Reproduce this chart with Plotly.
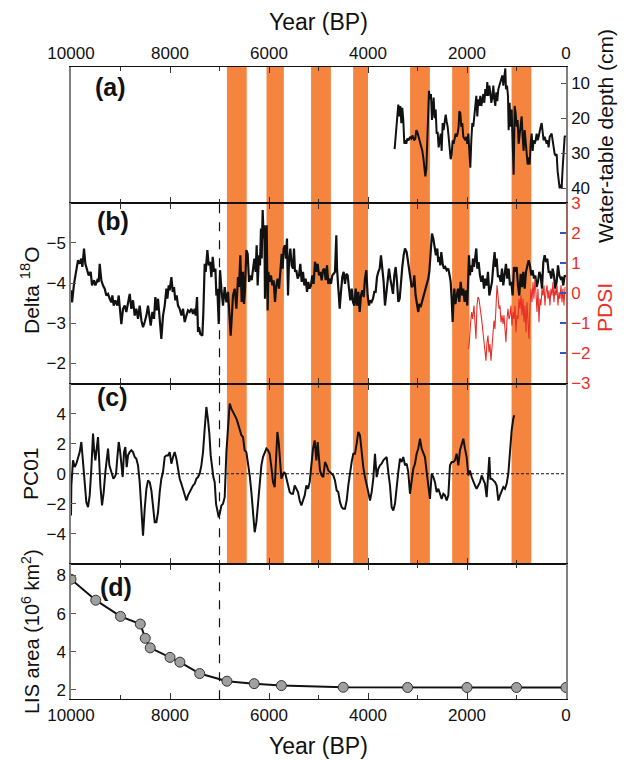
import plotly.graph_objects as go

# ---------------- data ----------------
# Panel (a): water-table depth (cm)
wt_year = [3462,3435,3408,3388,3367,3347,3327,3307,3287,3266,3246,3226,3206,3179,3152,3125,3098,3071,3044,3024,
           3004,2984,2963,2943,2923,2903,2883,2862,2842,2822,2802,2782,2768,2748,2728,2708,2694,2674,2654,2633,
           2613,2593,2573,2553,2532,2512,2492,2472,2452,2431,2411,2391,2371,2351,2330,2310,2290,2270,2250,2229,
           2209,2189,2169,2155,2135,2115,2095,2075,2054,2034,2014,1994,1974,1953,1933,1913,1893,1873,1852,1832,
           1812,1792,1771,1751,1731,1711,1691,1670,1650,1630,1610,1590,1570,1549,1529,1509,1489,1468,1448,1428,
           1408,1388,1367,1347,1327,1307,1287,1266,1246,1226,1213,1192,1172,1159,1139,1118,1098,1078,1058,1037,
           1017,997,977,957,936,916,896,876,856,835,815,795,775,755,734,714,694,674,654,633,
           613,593,573,553,532,512,492,472,452,431,411,391,371,351,330,310,290,270,250,229,
           209,189,169,149,128,108,88,67,47,27,7]
wt_depth = [28.8,24.4,19.5,16.1,19.5,16.5,21.4,17.0,20.5,27.3,26.3,27.3,25.8,26.3,25.3,25.8,24.9,26.3,25.8,23.4,
            23.9,24.9,26.3,27.3,28.3,29.3,31.2,34.1,36.6,34.6,26.3,18.5,12.2,14.6,13.1,20.5,16.5,14.1,20.0,17.5,
            24.4,23.9,28.3,25.3,24.4,29.3,21.4,23.4,20.0,19.0,20.9,22.4,25.3,28.3,31.7,30.2,26.3,27.3,25.3,24.4,
            25.3,24.4,22.4,18.0,18.5,22.4,21.4,25.3,25.8,26.3,25.3,27.3,24.4,28.3,34.1,26.3,21.4,22.4,18.5,17.5,
            13.6,19.5,14.6,16.5,13.6,16.5,14.6,13.1,15.6,11.7,13.6,9.7,13.6,10.7,12.6,15.6,14.1,10.7,14.6,16.5,
            12.6,15.1,11.7,10.7,9.7,8.7,7.8,10.7,7.3,5.8,11.7,10.7,13.6,23.4,15.6,22.4,17.5,25.3,36.1,16.5,
            18.5,22.4,20.5,27.3,24.4,23.4,19.5,25.3,29.3,23.4,26.3,29.3,33.2,31.2,33.2,27.3,24.4,29.3,26.3,27.3,
            26.3,24.4,26.3,25.3,23.4,22.4,21.4,23.4,26.3,25.3,26.3,27.3,26.3,28.3,25.3,24.9,24.4,26.3,28.3,30.2,
            30.7,30.2,35.1,38.1,40.0,39.0,40.0,34.1,30.2,25.3,25.0]

# Panel (b): Delta 18O
d18o_year = [10000,9979,9939,9892,9858,9824,9791,9770,9737,9710,9676,9643,9602,9575,9535,9508,9467,9440,9420,9387,
             9353,9319,9286,9252,9218,9185,9164,9137,9104,9063,9036,9016,8983,8949,8915,8882,8848,8814,8781,8747,
             8713,8680,8646,8612,8578,8545,8511,8477,8444,8417,8390,8356,8323,8296,8269,8242,8215,8175,8141,8107,
             8073,8053,8026,8006,7972,7945,7919,7892,7865,7838,7804,7770,7737,7703,7669,7636,7602,7568,7535,7501,
             7481,7454,7434,7414,7387,7346,7326,7299,7279,7245,7218,7191,7164,7137,7110,7083,7063,7043,7016,6989,
             6962,6929,6895,6861,6828,6774,6727,6693,6659,6626,
             6606,6579,6552,6525,6505,6485,6458,6431,6404,6377,6350,6317,6296,6270,6249,6229,6202,6182,6162,6148,
             6128,6108,6094,6081,6067,6047,6027,6014,5987,5960,5933,5906,5879,5852,5825,5798,5771,5744,5724,5704,
             5677,5657,5637,5616,5596,5569,5542,5515,5495,5475,5448,5421,5394,5367,5340,5313,5286,5259,5232,5206,
             5179,5152,5125,5098,5071,5044,5017,4990,4963,4936,4909,4882,4855,4828,4802,4775,4748,4721,4694,4667,
             4640,4626,4599,4572,4546,4519,4492,4465,4438,4411,4384,4357,4330,4303,4276,4249,4222,4195,4168,4142,
             4115,4088,4061,4034,4007,3980,3953,3926,3899,3872,3845,3818,3791,3764,3738,3711,3684,3657,3630,3603,
             3576,3549,3522,3495,3468,3441,3414,3387,3360,3334,3307,3280,3253,
             3219,3186,3152,3118,3085,3064,3038,3004,2984,2963,2937,2910,2883,2849,2815,2782,2761,2734,2708,2681,
             2654,2627,2600,2580,2559,2539,2519,2492,2465,2438,2411,2378,2351,2330,2310,2290,2277,2256,2236,2209,
             2182,2155,2128,2101,2075,2048,2021,1994,1980,1960,1940,1920,1899,1879,1859,1832,1812,1792,1765,1738,
             1711,1684,1657,1630,1603,1576,1549,1522,1495,1468,1442,1421,1401,1374,1347,1320,1293,1267,1240,1213,
             1186,1159,1132,1105,1078,1051,1024,997,970,943,916,889,862,835,808,782,755,728,701,674,
             647,620,593,566,539,512,485,458,431,404,378,351,324,297,270,243,216,189,162,135,
             108,81,54,27,5]
d18o_val = [-3.82,-3.52,-3.98,-4.32,-4.57,-4.48,-4.61,-4.40,-4.86,-4.48,-4.32,-4.19,-4.28,-3.94,-4.07,-3.94,-4.07,-4.03,-4.48,-4.07,
            -3.94,-3.86,-3.69,-3.73,-3.61,-3.52,-3.69,-3.44,-3.57,-3.44,-3.69,-3.44,-2.98,-3.36,-3.44,-3.28,-3.52,-3.73,-3.36,-3.57,
            -3.19,-3.36,-3.11,-3.44,-3.07,-2.90,-3.03,-3.19,-3.44,-3.11,-2.94,-3.28,-3.11,-3.65,-3.32,-3.61,-3.11,-2.61,-3.19,-3.44,
            -3.86,-3.61,-3.94,-3.82,-4.15,-3.78,-3.90,-3.57,-3.69,-3.44,-3.36,-3.19,-3.36,-3.03,-3.19,-3.32,-3.28,-3.36,-3.23,-3.36,
            -3.19,-3.65,-2.78,-2.90,-2.73,-2.69,-3.28,-4.48,-4.28,-4.82,-4.44,-4.53,-4.15,-4.65,-4.28,-4.36,-3.69,-3.86,-2.98,-4.32,
            -3.86,-3.44,-3.90,-3.52,-3.78,-2.69,-3.69,-3.86,-3.36,-4.15,
            -3.90,-4.69,-3.53,-4.28,-3.48,-3.82,-4.82,-4.73,-4.03,-4.19,-4.07,-4.44,-4.61,-4.28,-4.94,-3.94,-4.69,-4.44,-5.36,-4.61,
            -5.82,-5.11,-5.44,-3.61,-4.61,-5.44,-3.32,-4.28,-4.03,-4.19,-3.94,-4.07,-3.53,-3.94,-4.11,-3.86,-4.28,-4.73,-4.36,-4.86,
            -4.94,-4.61,-5.11,-3.69,-4.53,-4.86,-4.44,-4.36,-4.86,-4.28,-4.32,-4.11,-4.19,-4.48,-4.03,-4.28,-3.94,-4.11,-3.78,-4.03,
            -3.86,-3.94,-4.19,-3.98,-4.53,-4.28,-4.48,-4.19,-4.28,-4.07,-4.32,-4.36,-4.07,-4.44,-3.98,-4.11,-3.98,-4.19,-4.23,-4.28,
            -5.19,-4.36,-3.86,-3.36,-3.78,-4.15,-4.28,-3.98,-4.23,-4.19,-3.86,-3.57,-3.86,-3.53,-3.44,-3.86,-3.44,-3.78,-3.28,-3.69,
            -3.82,-3.65,-4.11,-4.32,-3.69,-3.44,-3.57,-3.53,-3.61,-3.78,-3.78,-4.15,-4.28,-4.36,-4.69,-4.32,-4.03,-3.44,-3.78,-3.94,
            -4.36,-4.11,-3.86,-3.73,-4.19,-4.40,-4.03,-3.53,-3.61,-4.11,-4.40,-4.69,-4.86,
            -4.77,-4.52,-4.19,-3.90,-3.94,-4.19,-3.69,-3.44,-3.28,-3.48,-3.40,-3.53,-3.65,-3.78,-3.94,-4.11,-4.28,-4.86,-5.23,-5.11,
            -4.86,-4.69,-4.86,-4.52,-4.65,-4.44,-4.77,-4.48,-4.36,-4.40,-4.32,-4.36,-4.19,-4.03,-3.61,-3.03,-3.44,-3.86,-3.48,-3.69,
            -3.86,-3.53,-4.03,-3.69,-3.86,-3.53,-3.82,-3.44,-4.03,-4.69,-4.19,-4.44,-4.28,-4.61,-4.40,-4.69,-4.86,-4.36,-4.52,-4.19,
            -4.03,-4.19,-3.86,-4.11,-3.94,-4.28,-3.69,-3.86,-4.03,-4.44,-4.77,-4.40,-4.61,-4.15,-4.19,-4.03,-4.36,-3.94,-4.28,-4.48,
            -4.11,-4.36,-3.94,-4.03,-3.69,-4.40,-4.28,-4.40,-3.94,-3.69,-4.23,-3.90,-4.28,-3.86,-4.28,-4.44,-4.57,-4.44,-4.19,-4.32,
            -4.11,-4.19,-3.90,-4.03,-4.28,-4.19,-3.86,-4.52,-4.69,-4.52,-4.61,-4.28,-4.28,-4.11,-4.36,-4.19,-3.86,-4.03,-4.44,-4.19,
            -4.11,-4.15,-3.94,-4.19,-4.15]

# Panel (b): PDSI (right axis)
pdsi_year = [1974,1953,1926,1906,1886,1859,1839,1819,1798,1778,1758,1738,1718,1697,1677,1657,1637,1617,1596,1576,
             1556,1536,1516,1495,1475,1455,1435,1415,1394,1374,1354,1334,1313,1293,1273,1253,1233,1213,1192,1172,
             1152,1132,1112,1091,1071,1051,1031,1011,990,970,950,930,910,889,869,849,829,809,788,768,
             748,728,708,687,667,647,627,607,586,566,546,526,506,485,465,445,425,405,384,364,
             344,324,304,283,263,243,223,203,182,162,142,122,101,81,61,41,20]
pdsi_val = [-1.86,-1.63,-0.97,-0.63,-0.86,-0.41,-0.97,-1.52,-0.41,-0.13,-0.19,-0.41,-0.74,-0.97,-1.30,-1.63,-2.08,-2.24,-1.63,-1.41,
            -1.97,-1.69,-2.24,-1.74,-1.30,-0.91,-1.19,-0.52,0.26,-0.08,-0.52,-0.41,-0.97,-0.74,-1.02,-0.74,-1.30,-1.63,-0.86,-0.52,
            -0.86,-0.74,-0.41,-1.08,-0.63,-0.86,-0.41,-1.30,-0.74,-0.86,-0.19,-0.52,-0.08,-0.74,-0.19,-0.97,-0.41,-1.30,-0.30,-1.08,
            -1.52,-0.52,0.14,-0.30,0.37,-0.19,0.48,0.03,-0.63,0.14,-0.97,-0.19,-0.41,0.14,-0.08,0.26,-0.41,0.03,0.26,-0.19,
            0.09,-0.41,0.14,-0.08,0.37,-0.30,0.14,-0.08,0.26,-0.41,0.03,-0.19,0.26,-0.30,0.14,-0.41,0.20]

# Panel (c): PC01
pc_year = [10000,9993,9959,9925,9892,9858,9824,9791,9757,9723,9690,9656,9622,9589,9555,9535,9508,9481,9454,9434,
           9407,9373,9339,9306,9279,9252,9225,9198,9171,9144,9117,9090,9063,9036,9010,8983,8956,8929,8902,8875,
           8848,8814,8781,8747,8713,8680,8646,8612,8578,8545,8511,8477,8444,8410,8376,8343,8309,8275,8242,8208,
           8175,8141,8107,8073,8040,8006,7972,7939,7905,7871,7838,7804,7770,7737,7703,7669,7636,7602,7568,7535,
           7501,7467,7434,7400,7366,7333,7299,7265,7232,7205,7178,7151,7124,7097,7070,7043,7016,6989,6962,6929,
           6895,6861,6828,6794,6760,6727,6693,6659,6626,6592,6558,6525,6491,6457,6424,6390,6356,6323,6289,6255,
           6222,6188,6154,6121,6087,6053,6020,5986,5952,5919,5885,5851,5831,5804,5777,5750,5723,5696,5670,5643,
           5616,5582,5548,5515,5481,5447,5414,5380,5346,5313,5279,5245,5212,5178,5144,5111,5077,5043,
           5017,4990,4970,4936,4903,4869,4835,4802,4768,4734,4701,4667,4633,4600,4566,4532,4499,4465,4431,4398,
           4364,4330,4297,4263,4229,4196,4162,4128,4095,4061,4027,3994,3960,3926,3893,3859,3825,3792,3758,3724,
           3691,3657,3623,3590,3556,3522,3489,3455,3421,3388,3354,3320,3287,3253,3219,3186,3152,3118,3085,3051,
           3017,2984,2950,2916,2883,2849,2815,2782,2748,2714,2680,2647,2613,2579,2546,2512,2478,2445,2411,2377,
           2344,2310,2276,2243,2209,2175,2142,2108,2074,2041,2007,1973,1940,1906,1872,1839,1805,1771,1738,1704,
           1670,1637,1603,1569,1549,1529,1502,1468,1435,1401,1367,1334,1300,1266,1233,1199,1165,1132,1098,1064,1044]
pc_val = [-2.78,-0.78,0.89,0.44,0.67,1.11,1.44,2.11,0.78,-1.00,-1.89,-2.22,-1.44,0.33,2.67,1.67,0.89,1.67,2.44,1.11,
          -0.78,-2.11,-1.22,0.11,1.11,1.67,0.56,0.22,-0.11,-0.33,-0.22,0.00,1.11,2.11,1.56,0.78,-0.22,1.44,1.78,0.44,
          1.22,1.44,1.56,1.44,1.11,1.00,0.56,-0.56,-2.33,-4.11,-2.33,-1.00,-0.44,-0.56,-1.11,-2.00,-3.22,-3.22,-2.56,-1.22,
          -0.33,0.11,1.11,1.22,1.22,1.44,0.67,1.11,1.44,1.00,0.22,-0.33,-0.67,-1.00,-1.44,-1.78,-1.44,-1.22,-0.89,-0.78,
          -0.67,-0.33,-0.22,0.00,0.56,1.44,3.00,4.44,3.56,2.67,1.22,0.33,-0.22,-0.56,-2.00,-2.44,-2.89,-2.56,-2.11,-2.00,
          -1.56,1.44,3.44,4.67,4.33,4.11,3.89,3.67,3.33,3.00,2.56,2.44,1.56,1.44,0.78,-0.11,-1.22,-2.78,-3.89,-3.22,
          -1.89,-0.56,0.56,1.11,1.44,1.67,1.56,1.33,0.44,-0.56,-0.89,1.56,2.78,2.11,1.11,-0.33,-0.11,0.11,0.00,-0.44,
          -0.89,-1.22,-1.33,-1.33,-0.78,-1.00,-1.22,-1.78,-2.11,-1.78,-1.44,-0.78,-1.00,-0.56,0.56,1.67,2.22,0.89,
          2.11,1.11,0.22,-0.11,-0.22,0.78,0.56,0.22,0.11,0.00,-0.11,-0.44,-1.11,-1.22,-1.89,-2.22,-2.33,-2.33,-1.78,-0.78,
          0.11,0.78,1.33,1.33,2.00,2.78,2.56,1.44,0.44,-0.22,-0.67,-1.22,-1.78,-1.22,-0.33,1.33,-0.22,0.33,0.56,0.67,
          0.89,1.00,1.11,0.11,-0.78,-2.22,-2.44,-2.00,-0.78,0.11,1.00,0.78,1.11,0.56,0.67,0.11,-1.33,-0.33,0.33,0.67,
          1.33,1.67,2.33,1.67,1.33,1.11,0.11,-0.78,-1.67,0.00,-0.22,-0.56,-1.22,-1.00,-1.33,-1.67,-1.33,-1.44,-1.78,-1.44,
          0.56,0.78,0.78,0.89,1.33,0.56,1.56,1.89,2.33,1.67,1.11,-0.11,0.22,-0.22,-0.56,-0.78,-1.00,-0.78,-0.56,-0.11,
          -0.44,-0.67,-1.56,0.22,1.11,-0.33,-0.33,-0.44,-0.56,-0.78,-1.78,-1.44,-1.11,-0.89,-1.00,-0.67,0.00,1.67,2.89,3.67,3.89]

# Panel (d): LIS area (10^6 km^2)
lis_year = [10000,9500,9000,8600,8500,8400,8000,7800,7400,6850,6300,5750,4500,3200,2000,1000,0]
lis_area = [7.8,6.7,5.85,5.45,4.7,4.2,3.7,3.45,2.85,2.45,2.32,2.22,2.13,2.12,2.12,2.12,2.12]

# Shaded dry intervals (years BP)
band_start = [6850,6050,5150,4300,3150,2300,1100]
band_end = [6450,5700,4750,4000,2750,1950,700]

# Axis ticks
year_ticks = [0, 2000, 4000, 6000, 8000, 10000]
year_tick_text = ["0", "2000", "4000", "6000", "8000", "10000"]
year_minor = [1000, 3000, 5000, 7000, 9000]

# Reference marker
dash_year = 7000

# ---------------- layout geometry ----------------
# The page body has an 8px margin; the figure is sized so it fills the window exactly.
OFF = 8
W, H = 626 - OFF, 760 - OFF
def px(v):
    return (v - OFF) / W
def py(v):
    return 1 - (v - OFF) / H
X0, X1 = px(71), px(566)
dom_a = [py(202.7), py(66.7)]
dom_b = [py(383.5), py(202.7)]
dom_c = [py(564.0), py(383.5)]
dom_d = [py(699.3), py(564.0)]

FONT = "Liberation Sans, Arial, Helvetica, sans-serif"
ORANGE = "#F5843F"
GRAY = "#808080"

fig = go.Figure()

fig.add_trace(go.Scatter(x=wt_year, y=wt_depth, mode="lines", line=dict(color="#111111", width=2),
                         xaxis="x", yaxis="y", showlegend=False))
fig.add_trace(go.Scatter(x=d18o_year, y=d18o_val, mode="lines", line=dict(color="#111111", width=2.2),
                         xaxis="x2", yaxis="y2", showlegend=False))
fig.add_trace(go.Scatter(x=pdsi_year, y=pdsi_val, mode="lines", line=dict(color="#e8302a", width=1.1),
                         xaxis="x2", yaxis="y5", showlegend=False))
fig.add_trace(go.Scatter(x=pc_year, y=pc_val, mode="lines", line=dict(color="#111111", width=2),
                         xaxis="x3", yaxis="y3", showlegend=False))
fig.add_trace(go.Scatter(x=lis_year, y=lis_area, mode="lines+markers",
                         line=dict(color="#111111", width=2),
                         marker=dict(size=10, color="#a0a0a0", line=dict(color="#333333", width=1)),
                         xaxis="x4", yaxis="y4", showlegend=False))

tickfont = dict(family=FONT, size=17, color="#111111")

def xax(anchor, show_labels=False, side="bottom"):
    return dict(domain=[X0, X1], anchor=anchor, range=[10000, 0], autorange=False, automargin=False,
                tickmode="array", tickvals=year_ticks, ticktext=year_tick_text,
                ticks="inside", ticklen=6, tickwidth=1, tickcolor="#333333",
                minor=dict(tickvals=year_minor, ticks="inside", ticklen=4,
                           tickcolor="#333333", tickwidth=1),
                showticklabels=show_labels, side=side, tickfont=tickfont,
                showline=True, linecolor="#111111", linewidth=1, mirror="allticks",
                showgrid=False, zeroline=False)

def yax(anchor, domain, rng, vals, side="left"):
    return dict(domain=domain, anchor=anchor, range=rng, autorange=False, automargin=False,
                tickmode="array", tickvals=vals, ticks="inside", ticklen=5, tickcolor="#555555",
                side=side, tickfont=tickfont, showline=True, linecolor=GRAY, linewidth=1.5,
                mirror=True, showgrid=False, zeroline=False)

layout = dict(
    width=W, height=H, margin=dict(l=0, r=0, t=0, b=0, autoexpand=False),
    paper_bgcolor="white", plot_bgcolor="rgba(0,0,0,0)",
    font=dict(family=FONT, color="#111111"),
    xaxis=xax("y", True, "top"),
    xaxis2=xax("y2"),
    xaxis3=xax("y3"),
    xaxis4=xax("y4", True, "bottom"),
    yaxis=yax("x", dom_a, [44.1, 5.3], [10, 20, 30, 40], side="right"),
    yaxis2=yax("x2", dom_b, [-1.5, -6.0], [-5, -4, -3, -2]),
    yaxis3=yax("x3", dom_c, [-6, 6], [-4, -2, 0, 2, 4]),
    yaxis4=yax("x4", dom_d, [1.5, 8.6], [2, 4, 6, 8]),
    yaxis5=dict(overlaying="y2", anchor="x2", side="right", range=[-3, 3], autorange=False, automargin=False,
                tickmode="array", tickvals=[-3, -2, -1, 0, 1, 2, 3], ticks="inside", ticklen=6,
                tickcolor="#3a4fc0", tickwidth=1.5,
                tickfont=dict(family=FONT, size=17, color="#e8302a"),
                showline=True, linecolor="#a8625a", linewidth=1.5, showgrid=False, zeroline=False),
)
fig.update_layout(**layout)

# Orange bands (below data)
for s, e in zip(band_start, band_end):
    fig.add_shape(type="rect", xref="x3", yref="paper", x0=s, x1=e, y0=dom_c[0], y1=dom_a[1],
                  fillcolor=ORANGE, line=dict(width=0), layer="below")

# Dashed vertical line at 7000 BP (panels b-d)
fig.add_shape(type="line", xref="x4", yref="paper", x0=dash_year, x1=dash_year,
              y0=dom_d[0], y1=dom_b[1], line=dict(color="#111111", width=1.2, dash="dash"))
# Zero line in panel c
fig.add_shape(type="line", xref="paper", yref="y3", x0=X0, x1=X1, y0=0, y1=0,
              line=dict(color="#111111", width=1, dash="3px,2px"))

ann = []
def text(x, y, s, size=20, angle=0, color="#111111", bold=False):
    ann.append(dict(x=px(x), y=py(y), xref="paper", yref="paper", text=("<b>%s</b>" % s) if bold else s,
                    showarrow=False, textangle=angle, xanchor="center", yanchor="middle",
                    font=dict(family=FONT, size=size, color=color)))

text(318.5, 22, "Year (BP)", size=23)
text(318.5, 746, "Year (BP)", size=23)
text(605, 136, "Water-table depth (cm)", size=21, angle=-90)
text(604, 308, "PDSI", size=21, angle=-90, color="#e8302a")
text(30, 290, "Delta <sup>18</sup>O", size=21, angle=-90)
text(30, 474, "PC01", size=21, angle=-90)
text(30, 632, "LIS area (10<sup>6</sup> km<sup>2</sup>)", size=20, angle=-90)
text(110, 87, "(a)", size=25, bold=True)
text(113, 221, "(b)", size=25, bold=True)
text(112, 397, "(c)", size=25, bold=True)
text(116, 587, "(d)", size=25, bold=True)
fig.update_layout(annotations=ann)

fig.write_html("out.html")
